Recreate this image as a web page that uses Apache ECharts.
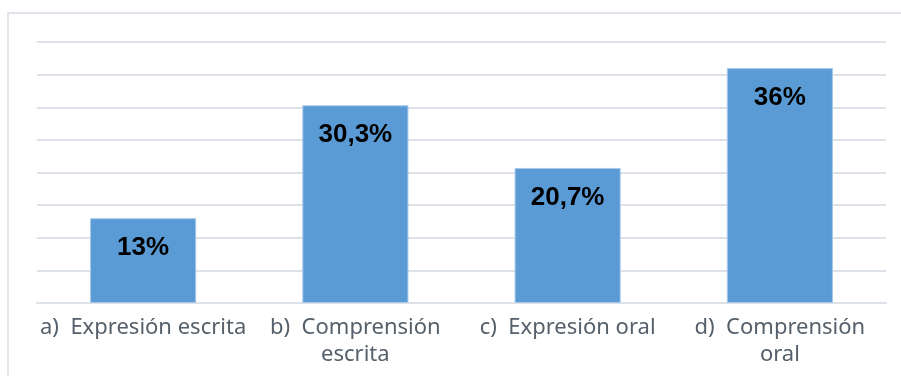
<!DOCTYPE html>
<html>
<head>
<meta charset="utf-8">
<script src="https://cdn.jsdelivr.net/npm/echarts@6/dist/echarts.min.js"></script>
<style>
  html, body { margin: 0; padding: 0; background: #fff; }
  #main { width: 901px; height: 376px; }
</style>
</head>
<body>
<div id="main"></div>
<script>
var categories = ['a)  Expresión escrita', 'b)  Comprensión\nescrita', 'c)  Expresión oral', 'd)  Comprensión\noral'];
var values = [13, 30.3, 20.7, 36];

var myChart = echarts.init(document.getElementById('main'));
myChart.setOption({
  animation: false,
  graphic: [{
    type: 'rect',
    shape: { x: 8, y: 13, width: 1000, height: 500 },
    style: { fill: 'none', stroke: '#e1e5eb', lineWidth: 2 },
    silent: true
  }],
  grid: { left: 37, right: 15, top: 42, bottom: 73 },
  xAxis: {
    type: 'category',
    data: categories,
    axisTick: { show: false },
    axisLine: { lineStyle: { color: '#dde1e8', width: 2 } },
    axisLabel: {
      color: '#56606b',
      fontSize: 22,
      lineHeight: 27,
      margin: 11,
      interval: 0,
      fontFamily: 'Noto Sans'
    }
  },
  yAxis: {
    type: 'value',
    min: 0,
    max: 40,
    interval: 5,
    axisLabel: { show: false },
    axisLine: { show: false },
    axisTick: { show: false },
    splitLine: { lineStyle: { color: '#dde1e8', width: 2 } }
  },
  series: [{
    type: 'bar',
    data: values,
    barWidth: '50%',
    itemStyle: { color: '#5b9bd5', borderColor: '#a8c8ea', borderWidth: 1 },
    label: {
      show: true,
      position: 'insideTop',
      distance: 17,
      color: '#000',
      fontSize: 26,
      fontWeight: 'bold',
      fontFamily: 'Liberation Sans',
      formatter: function (p) { return String(p.value).replace('.', ',') + '%'; }
    }
  }]
});
</script>
</body>
</html>
